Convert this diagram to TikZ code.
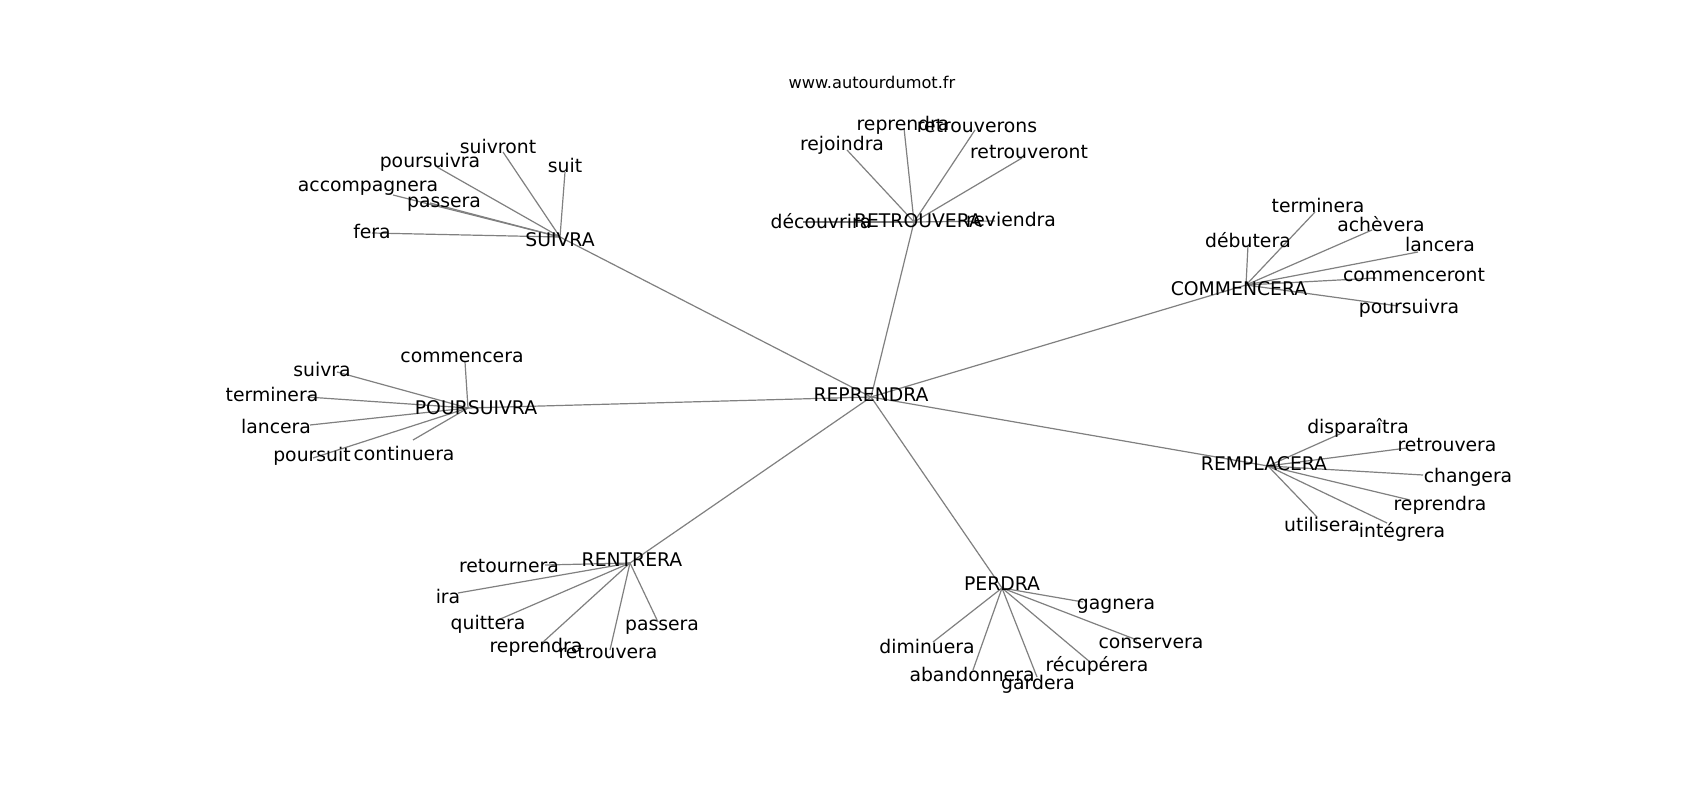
\documentclass[tikz,border=0pt]{standalone}
\usepackage{fontspec}
\setmainfont{DejaVu Sans}
\begin{document}
\begin{tikzpicture}[x=1pt,y=-1pt,
  lbl/.style={font=\fontsize{18.8}{22}\selectfont, inner sep=0pt, text=black},
  ttl/.style={font=\fontsize{16.2}{19}\selectfont, inner sep=0pt, text=black},
  link/.style={draw=gray, line width=1.2pt}]
\path[use as bounding box, fill=white] (0,0) rectangle (1700,800);

% ---- hub points
\coordinate (R0) at (871,397);
\coordinate (S)  at (560,237);
\coordinate (RT) at (914,222);
\coordinate (C)  at (1246,285);
\coordinate (P)  at (468,408);
\coordinate (RM) at (1268,466);
\coordinate (RN) at (630,563);
\coordinate (PD) at (1002,588);

% ---- leaf points
% SUIVRA
\coordinate (s1) at (503,152);
\coordinate (s2) at (437,167);
\coordinate (s3) at (565,172);
\coordinate (s4) at (393,195);
\coordinate (s5) at (430,203);
\coordinate (s6) at (372,233);
% RETROUVERA
\coordinate (t1) at (904,128);
\coordinate (t2) at (975,130);
\coordinate (t3) at (847,150);
\coordinate (t4) at (1022,158);
\coordinate (t5) at (803,222);
\coordinate (t6) at (995,221);
% COMMENCERA
\coordinate (c1) at (1315,212);
\coordinate (c2) at (1248,245);
\coordinate (c3) at (1372,230);
\coordinate (c4) at (1418,252);
\coordinate (c5) at (1376,278);
\coordinate (c6) at (1398,306);
% POURSUIVRA
\coordinate (p1) at (465,362);
\coordinate (p2) at (337,372);
\coordinate (p3) at (307,397);
\coordinate (p4) at (310,425);
\coordinate (p5) at (313,458);
\coordinate (p6) at (413,440);
% REMPLACERA
\coordinate (m1) at (1342,433);
\coordinate (m2) at (1407,448);
\coordinate (m3) at (1423,475);
\coordinate (m4) at (1410,500);
\coordinate (m5) at (1317,517);
\coordinate (m6) at (1387,523);
% RENTRERA
\coordinate (n1) at (545,565);
\coordinate (n2) at (458,593);
\coordinate (n3) at (498,620);
\coordinate (n4) at (542,643);
\coordinate (n5) at (610,650);
\coordinate (n6) at (658,622);
% PERDRA
\coordinate (d1) at (1083,602);
\coordinate (d2) at (1137,640);
\coordinate (d3) at (1090,662);
\coordinate (d4) at (1037,677);
\coordinate (d5) at (973,670);
\coordinate (d6) at (933,642);

% ---- connectors
\foreach \h in {S,RT,C,P,RM,RN,PD} \draw[link] (R0) -- (\h);
\foreach \l in {s1,s2,s3,s4,s5,s6} \draw[link] (S) -- (\l);
\foreach \l in {t1,t2,t3,t4,t5,t6} \draw[link] (RT) -- (\l);
\foreach \l in {c1,c2,c3,c4,c5,c6} \draw[link] (C) -- (\l);
\foreach \l in {p1,p2,p3,p4,p5,p6} \draw[link] (P) -- (\l);
\foreach \l in {m1,m2,m3,m4,m5,m6} \draw[link] (RM) -- (\l);
\foreach \l in {n1,n2,n3,n4,n5,n6} \draw[link] (RN) -- (\l);
\foreach \l in {d1,d2,d3,d4,d5,d6} \draw[link] (PD) -- (\l);

% ---- labels
\node[ttl] (title) at (872,82.5) {www.autourdumot.fr};

\node[lbl] (R0t) at (871,395) {REPRENDRA};
\node[lbl] (St)  at (560,240) {SUIVRA};
\node[lbl] (RTt) at (918,221) {RETROUVERA};
\node[lbl] (Ct)  at (1239,289) {COMMENCERA};
\node[lbl] (Pt)  at (476,408) {POURSUIVRA};
\node[lbl] (RMt) at (1264,464) {REMPLACERA};
\node[lbl] (RNt) at (632,560) {RENTRERA};
\node[lbl] (PDt) at (1002,584) {PERDRA};

\node[lbl] (s1t) at (498,146) {suivront};
\node[lbl] (s2t) at (430,162) {poursuivra};
\node[lbl] (s3t) at (565,165) {suit};
\node[lbl] (s4t) at (368,188) {accompagnera};
\node[lbl] (s5t) at (444,204) {passera};
\node[lbl] (s6t) at (372,231) {fera};

\node[lbl] (t1t) at (903,125) {reprendra};
\node[lbl] (t2t) at (977,126) {retrouverons};
\node[lbl] (t3t) at (842,145) {rejoindra};
\node[lbl] (t4t) at (1029,152) {retrouveront};
\node[lbl] (t5t) at (821,221) {découvrira};
\node[lbl] (t6t) at (1011,219) {reviendra};

\node[lbl] (c1t) at (1318,205) {terminera};
\node[lbl] (c2t) at (1248,240) {débutera};
\node[lbl] (c3t) at (1381,224) {achèvera};
\node[lbl] (c4t) at (1440,244) {lancera};
\node[lbl] (c5t) at (1414,275) {commenceront};
\node[lbl] (c6t) at (1409,308) {poursuivra};

\node[lbl] (p1t) at (462,357) {commencera};
\node[lbl] (p2t) at (322,369) {suivra};
\node[lbl] (p3t) at (272,394) {terminera};
\node[lbl] (p4t) at (276,426) {lancera};
\node[lbl] (p5t) at (312,456) {poursuit};
\node[lbl] (p6t) at (404,453) {continuera};

\node[lbl] (m1t) at (1358,428) {disparaîtra};
\node[lbl] (m2t) at (1447,445) {retrouvera};
\node[lbl] (m3t) at (1468,477) {changera};
\node[lbl] (m4t) at (1440,505) {reprendra};
\node[lbl] (m5t) at (1322,524) {utilisera};
\node[lbl] (m6t) at (1402,532) {intégrera};

\node[lbl] (n1t) at (509,566) {retournera};
\node[lbl] (n2t) at (448,596) {ira};
\node[lbl] (n3t) at (488,624) {quittera};
\node[lbl] (n4t) at (536,647) {reprendra};
\node[lbl] (n5t) at (608,652) {retrouvera};
\node[lbl] (n6t) at (662,627) {passera};

\node[lbl] (d1t) at (1116,606) {gagnera};
\node[lbl] (d2t) at (1151,643) {conservera};
\node[lbl] (d3t) at (1097,666) {récupérera};
\node[lbl] (d4t) at (1038,684) {gardera};
\node[lbl] (d5t) at (972,674) {abandonnera};
\node[lbl] (d6t) at (927,646) {diminuera};
\end{tikzpicture}
\end{document}
